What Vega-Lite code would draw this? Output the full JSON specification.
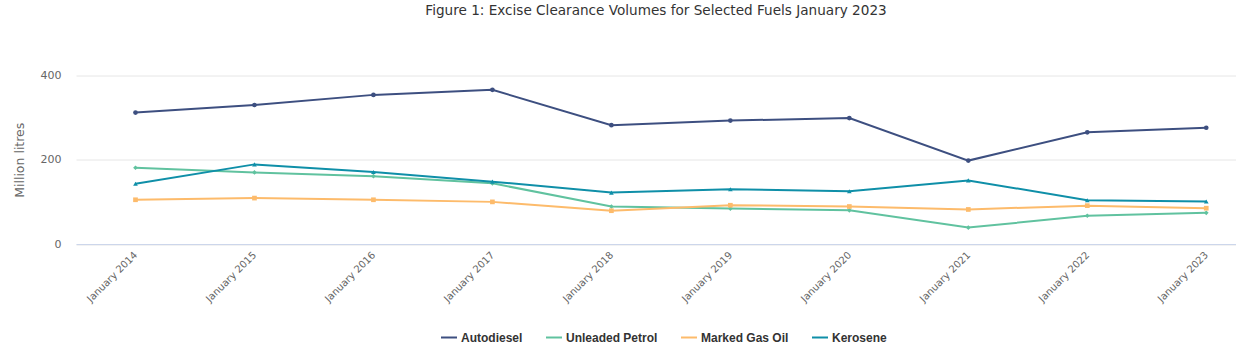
{
  "$schema": "https://vega.github.io/schema/vega-lite/v6.json",
  "width": 1160,
  "height": 168.5,
  "autosize": {"type": "none"},
  "padding": {"left": 76, "top": 75.5, "right": 0, "bottom": 108},
  "background": "white",
  "title": {
    "text": "Figure 1: Excise Clearance Volumes for Selected Fuels January 2023",
    "font": "DejaVu Sans",
    "fontSize": 13.6,
    "fontWeight": "normal",
    "color": "#333333",
    "anchor": "middle",
    "offset": 52
  },
  "config": {
    "view": {"stroke": null},
    "font": "DejaVu Sans"
  },
  "data": {
    "values": [
      {"year": 2014, "fuel": "Autodiesel", "volume": 312},
      {"year": 2015, "fuel": "Autodiesel", "volume": 330},
      {"year": 2016, "fuel": "Autodiesel", "volume": 354},
      {"year": 2017, "fuel": "Autodiesel", "volume": 366},
      {"year": 2018, "fuel": "Autodiesel", "volume": 282},
      {"year": 2019, "fuel": "Autodiesel", "volume": 293},
      {"year": 2020, "fuel": "Autodiesel", "volume": 299},
      {"year": 2021, "fuel": "Autodiesel", "volume": 198},
      {"year": 2022, "fuel": "Autodiesel", "volume": 265},
      {"year": 2023, "fuel": "Autodiesel", "volume": 276},
      {"year": 2014, "fuel": "Unleaded Petrol", "volume": 181},
      {"year": 2015, "fuel": "Unleaded Petrol", "volume": 170},
      {"year": 2016, "fuel": "Unleaded Petrol", "volume": 161},
      {"year": 2017, "fuel": "Unleaded Petrol", "volume": 144},
      {"year": 2018, "fuel": "Unleaded Petrol", "volume": 89},
      {"year": 2019, "fuel": "Unleaded Petrol", "volume": 84},
      {"year": 2020, "fuel": "Unleaded Petrol", "volume": 80},
      {"year": 2021, "fuel": "Unleaded Petrol", "volume": 39},
      {"year": 2022, "fuel": "Unleaded Petrol", "volume": 67},
      {"year": 2023, "fuel": "Unleaded Petrol", "volume": 74},
      {"year": 2014, "fuel": "Marked Gas Oil", "volume": 105},
      {"year": 2015, "fuel": "Marked Gas Oil", "volume": 109},
      {"year": 2016, "fuel": "Marked Gas Oil", "volume": 105},
      {"year": 2017, "fuel": "Marked Gas Oil", "volume": 100},
      {"year": 2018, "fuel": "Marked Gas Oil", "volume": 79},
      {"year": 2019, "fuel": "Marked Gas Oil", "volume": 92},
      {"year": 2020, "fuel": "Marked Gas Oil", "volume": 89},
      {"year": 2021, "fuel": "Marked Gas Oil", "volume": 82},
      {"year": 2022, "fuel": "Marked Gas Oil", "volume": 91},
      {"year": 2023, "fuel": "Marked Gas Oil", "volume": 85},
      {"year": 2014, "fuel": "Kerosene", "volume": 143},
      {"year": 2015, "fuel": "Kerosene", "volume": 189},
      {"year": 2016, "fuel": "Kerosene", "volume": 171},
      {"year": 2017, "fuel": "Kerosene", "volume": 148},
      {"year": 2018, "fuel": "Kerosene", "volume": 122},
      {"year": 2019, "fuel": "Kerosene", "volume": 130},
      {"year": 2020, "fuel": "Kerosene", "volume": 125},
      {"year": 2021, "fuel": "Kerosene", "volume": 151},
      {"year": 2022, "fuel": "Kerosene", "volume": 104},
      {"year": 2023, "fuel": "Kerosene", "volume": 101}
    ]
  },
  "encoding": {
    "x": {
      "field": "year",
      "type": "quantitative",
      "scale": {"domain": [2013.5, 2023.25], "nice": false, "zero": false},
      "axis": {
        "title": null,
        "values": [2014, 2015, 2016, 2017, 2018, 2019, 2020, 2021, 2022, 2023],
        "labelExpr": "'January ' + datum.value",
        "labelAngle": -45,
        "labelAlign": "right",
        "labelBaseline": "middle",
        "labelFont": "DejaVu Sans",
        "labelFontSize": 10,
        "labelColor": "#666666",
        "labelPadding": 9,
        "ticks": false,
        "grid": false,
        "domainColor": "#ccd6eb",
        "domainWidth": 1
      }
    },
    "y": {
      "field": "volume",
      "type": "quantitative",
      "scale": {"domain": [0, 400], "nice": false},
      "axis": {
        "title": "Million litres",
        "titleFont": "DejaVu Sans",
        "titleFontSize": 12.5,
        "titleFontWeight": "normal",
        "titleColor": "#666666",
        "titlePadding": 14,
        "values": [0, 200, 400],
        "labelFont": "DejaVu Sans",
        "labelFontSize": 11,
        "labelColor": "#666666",
        "labelPadding": 15,
        "ticks": false,
        "domain": false,
        "gridColor": "#e6e6e6",
        "gridWidth": 1
      }
    },
    "color": {
      "field": "fuel",
      "type": "nominal",
      "scale": {
        "domain": ["Autodiesel", "Unleaded Petrol", "Marked Gas Oil", "Kerosene"],
        "range": ["#3d4f80", "#60c29f", "#fdbb6b", "#0f8fa8"]
      }
    }
  },
  "layer": [
    {
      "mark": {"type": "line", "strokeWidth": 2},
      "encoding": {
        "color": {
          "field": "fuel",
          "type": "nominal",
          "scale": {
            "domain": ["Autodiesel", "Unleaded Petrol", "Marked Gas Oil", "Kerosene"],
            "range": ["#3d4f80", "#60c29f", "#fdbb6b", "#0f8fa8"]
          },
          "legend": {
            "title": null,
            "orient": "none",
            "direction": "horizontal",
            "legendX": 364,
            "legendY": 253,
            "symbolType": "stroke",
            "symbolStrokeWidth": 2,
            "symbolSize": 256,
            "labelFont": "Liberation Sans",
            "labelFontSize": 12,
            "labelFontWeight": "bold",
            "labelColor": "#333333",
            "columnPadding": 19,
            "labelOffset": 3
          }
        }
      }
    },
    {
      "mark": {"type": "point", "filled": true, "size": 22, "opacity": 1},
      "encoding": {
        "color": {
          "field": "fuel",
          "type": "nominal",
          "legend": null
        },
        "shape": {
          "field": "fuel",
          "type": "nominal",
          "scale": {
            "domain": ["Autodiesel", "Unleaded Petrol", "Marked Gas Oil", "Kerosene"],
            "range": ["circle", "diamond", "square", "triangle-up"]
          },
          "legend": null
        }
      }
    }
  ],
  "resolve": {"legend": {"color": "independent", "shape": "independent"}}
}
